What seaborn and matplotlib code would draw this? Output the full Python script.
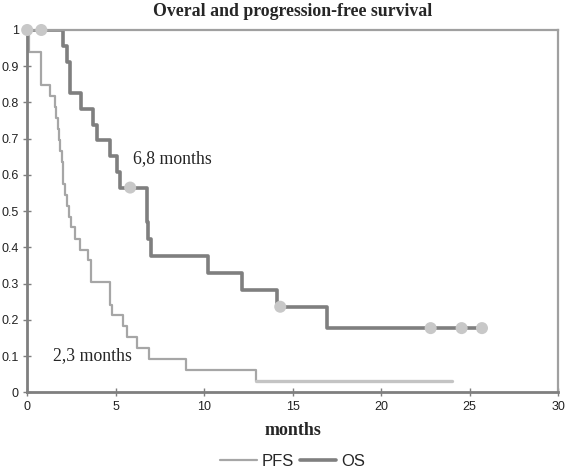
import numpy as np
import pandas as pd
import seaborn as sns
import matplotlib.pyplot as plt
from matplotlib.ticker import FuncFormatter

# Kaplan-Meier step values
pfs_months = [0, 0.1, 0.77, 1.3, 1.55, 1.65, 1.72, 1.82, 1.88, 1.95, 2.0, 2.05,
              2.15, 2.25, 2.35, 2.45, 2.71, 3.0, 3.45, 3.62, 4.69, 4.8, 5.44,
              5.63, 6.2, 6.86, 8.97, 12.94]
pfs_surv = [1.0, 0.939, 0.848, 0.818, 0.788, 0.758, 0.727, 0.697, 0.667, 0.636,
            0.606, 0.576, 0.545, 0.515, 0.485, 0.455, 0.424, 0.394, 0.364, 0.303,
            0.242, 0.212, 0.182, 0.152, 0.121, 0.091, 0.061, 0.030]
pfs_end = 24.0

os_months = [0, 2.0, 2.24, 2.43, 3.03, 3.71, 3.94, 4.69, 5.05, 5.22, 6.76, 6.85,
             6.98, 10.24, 12.13, 14.1, 16.93, 25.7]
os_surv = [1.0, 0.957, 0.913, 0.826, 0.783, 0.739, 0.696, 0.652, 0.609, 0.565,
           0.471, 0.424, 0.377, 0.330, 0.283, 0.236, 0.177, 0.177]

censor_months = [0, 0.8, 5.82, 14.3, 22.8, 24.55, 25.7]
censor_surv = [1.0, 1.0, 0.565, 0.236, 0.177, 0.177, 0.177]

pfs = pd.DataFrame({"months": pfs_months, "surv": pfs_surv})
pfs_tail = pd.DataFrame({"months": [pfs_months[-1], pfs_end],
                         "surv": [pfs_surv[-1], pfs_surv[-1]]})
os_df = pd.DataFrame({"months": os_months, "surv": os_surv})
censor = pd.DataFrame({"months": censor_months, "surv": censor_surv})

sns.set_style("white")
serif = ["Liberation Serif", "DejaVu Serif"]
sans = ["Liberation Sans", "DejaVu Sans"]

fig = plt.figure(figsize=(5.66, 4.76), dpi=100)
ax = fig.add_axes([0.048, 0.176, 0.938, 0.761])

pfs_col = "#a6a6a6"
os_col = "#7f7f7f"

sns.lineplot(data=pfs, x="months", y="surv", ax=ax, color=pfs_col, lw=1.6,
             drawstyle="steps-post", estimator=None, sort=False, label="PFS")
sns.lineplot(data=pfs_tail, x="months", y="surv", ax=ax, color="#c4c4c4", lw=2.4,
             estimator=None, sort=False)
sns.lineplot(data=os_df, x="months", y="surv", ax=ax, color=os_col, lw=2.6,
             drawstyle="steps-post", estimator=None, sort=False, label="OS")
sns.scatterplot(data=censor, x="months", y="surv", ax=ax, color="#c8c8c8",
                s=75, edgecolor="none", zorder=5, clip_on=False)

ax.set_xlim(0, 30)
ax.set_ylim(0, 1)
ax.set_xticks(np.arange(0, 31, 5))
ax.set_yticks(np.arange(0, 1.01, 0.1))
ax.yaxis.set_major_formatter(FuncFormatter(lambda v, p: f"{v:g}"))
for lab in ax.get_xticklabels() + ax.get_yticklabels():
    lab.set_family(sans)
    lab.set_fontsize(9)
    lab.set_color("#222222")
ax.tick_params(axis="both", direction="inout", length=6, width=1, color="#7f7f7f",
               left=True, bottom=True, pad=3)

for side in ["left", "bottom"]:
    ax.spines[side].set_color("#7f7f7f")
    ax.spines[side].set_linewidth(2)
for side in ["top", "right"]:
    ax.spines[side].set_color("#a0a0a0")
    ax.spines[side].set_linewidth(1.6)

ax.set_title("Overal and progression-free survival", family=serif,
             fontweight="bold", fontsize=12.8, pad=10)
ax.set_xlabel("months", family=serif, fontweight="bold", fontsize=13, labelpad=7)
ax.set_ylabel("")

ax.text(6.0, 0.645, "6,8 months", family=serif, fontsize=12.8, va="center")
ax.text(1.45, 0.102, "2,3 months", family=serif, fontsize=12.8, va="center")

ax.legend(loc="center", bbox_to_anchor=(0.5, -0.19), ncol=2, frameon=False,
          prop={"family": sans, "size": 12}, handlelength=2.2, columnspacing=0.35,
          handletextpad=0.3, borderpad=0.1)

fig.savefig("out.png", dpi=100)
